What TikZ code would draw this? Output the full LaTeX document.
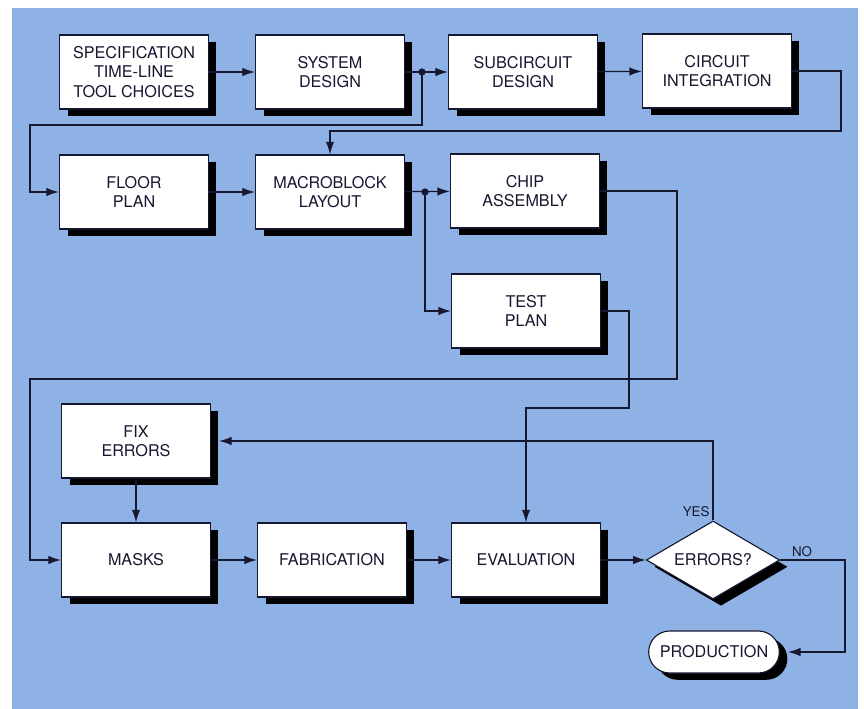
\documentclass[tikz,border=0pt]{standalone}
\usepackage{fontspec}
\setmainfont{TeX Gyre Heros}
\usetikzlibrary{shapes,arrows.meta}
\usetikzlibrary{shadows}

\definecolor{bgblue}{RGB}{143,178,230}
\definecolor{ink}{RGB}{22,24,48}

\begin{document}
\begin{tikzpicture}[x=0.025cm,y=-0.025cm,>={Latex[length=9pt,width=6pt]},
    color=ink, line width=0.9pt,
    shade/.style={drop shadow={shadow xshift=0.2cm, shadow yshift=-0.17cm, fill=black, opacity=1}},
    box/.style={draw=ink, fill=white, line width=0.8pt, minimum width=3.72cm, minimum height=1.85cm, align=center, font=\fontsize{11.5}{13.8}\selectfont, shade},
    decision/.style={draw=ink, fill=white, line width=0.8pt, diamond, aspect=1.7, inner sep=1pt, minimum width=3.33cm, minimum height=1.95cm, font=\fontsize{11.5}{13.8}\selectfont, shade},
    term/.style={draw=ink, fill=white, line width=0.8pt, rounded rectangle, minimum width=3.5cm, minimum height=1.05cm, font=\fontsize{11.5}{13.8}\selectfont, shade},
    lbl/.style={font=\fontsize{9.5}{11}\selectfont, inner sep=2pt, text=ink}]
    \useasboundingbox (0,0) rectangle (864,709);
    \fill[bgblue] (12,8) rectangle (858,709);

    % top two rows
    \node[box] (spec) at (134,72) {SPECIFICATION\\TIME-LINE\\TOOL CHOICES};
    \node[box] (sysdes) at (330,72) {SYSTEM\\DESIGN};
    \node[box] (subcirc) at (523,72) {SUBCIRCUIT\\DESIGN};
    \node[box] (circint) at (717,71) {CIRCUIT\\INTEGRATION};
    \node[box] (floor) at (134,192) {FLOOR\\PLAN};
    \node[box] (macro) at (330,192) {MACROBLOCK\\LAYOUT};
    \node[box] (chip) at (525,191) {CHIP\\ASSEMBLY};
    \node[box] (test) at (526,311) {TEST\\PLAN};

    % bottom part
    \node[box] (fix) at (136,441) {FIX\\ERRORS};
    \node[box] (masks) at (136,560) {MASKS};
    \node[box] (fab) at (332,560) {FABRICATION};
    \node[box] (eval) at (526,560) {EVALUATION};
    \node[decision] (errq) at (713,560) {ERRORS?};
    \node[term] (prod) at (714,652) {PRODUCTION};

    \coordinate (j1) at (422,72);
    \coordinate (j2) at (425,192);

    \draw[->] (spec) -- (sysdes);
    \draw[->] (sysdes) -- (subcirc);
    \draw[->] (subcirc) -- (circint);
    \draw[->] (j1) |- (30,125) |- (floor.west);
    \draw[->] (circint.east) -| (841,131) -| (macro.north);
    \draw[->] (floor) -- (macro);
    \draw[->] (macro) -- (chip);
    \draw[->] (j2) |- (test.west);
    \draw[->] (chip.east) -| (677,379) -| (30,560) -- (masks.west);
    \draw[->] (test.east) -| (629,408) -| (eval.north);
    \draw[->] (errq.north) |- ([xshift=2mm]fix.east);
    \draw[->] (fix) -- (masks);
    \draw[->] (masks) -- (fab);
    \draw[->] (fab) -- (eval);
    \draw[->] (eval) -- (errq);
    \draw[->] (errq.east) -| (845,652) -- ([xshift=2mm]prod.east);
    \fill[ink] (j1) circle (2.6pt);
    \fill[ink] (j2) circle (2.6pt);

    \node[lbl, above left] (yes) at (errq.north) {YES};
    \node[lbl, above right, xshift=6pt] (no) at (errq.east) {NO};
\end{tikzpicture}
\end{document}
